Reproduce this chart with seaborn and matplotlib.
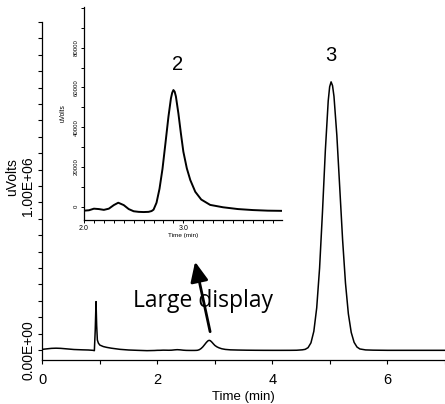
import matplotlib
matplotlib.use("Agg")
import matplotlib.pyplot as plt
from matplotlib.ticker import MultipleLocator, FuncFormatter
import pandas as pd
import seaborn as sns

# ---- data ----
time_min = [0.00, 0.08, 0.16, 0.24, 0.32, 0.42, 0.55, 0.70, 0.80, 0.88, 0.905,
            0.92, 0.934, 0.945, 0.957, 0.975, 1.00, 1.06, 1.12, 1.20, 1.35,
            1.50, 1.65, 1.82, 1.95,
            2.00, 2.05, 2.10, 2.15, 2.20, 2.25, 2.30, 2.345, 2.40, 2.45, 2.50,
            2.55, 2.60, 2.65, 2.68, 2.70, 2.73, 2.76, 2.79, 2.82, 2.85, 2.875,
            2.8875, 2.90, 2.9125, 2.925, 2.95, 2.975, 3.00, 3.035, 3.07, 3.12,
            3.18, 3.27, 3.40, 3.55, 3.70, 3.85, 4.00,
            4.15, 4.30, 4.42, 4.52, 4.57, 4.62, 4.67, 4.72, 4.77, 4.82, 4.87,
            4.92, 4.97, 4.995, 5.02, 5.045, 5.07, 5.12, 5.17, 5.22, 5.27, 5.32,
            5.37, 5.42, 5.47, 5.52, 5.62, 5.75, 6.00, 6.50, 7.00]
uvolts = [4000, 7000, 10000, 11000, 10000, 7000, 3000, 1000, 0, -2000, -4000,
          120000, 295000, 150000, 61000, 42000, 30000, 21000, 16000, 11000, 4000,
          0, -2000, -4000, -3000,
          -2000, -1800, -1000, -1200, -1600, -1000, 800, 2000, 800, -1200, -2300,
          -2600, -2700, -2600, -2200, -1500, 2000, 9000, 19000, 32000, 45300, 54500,
          57300, 58700, 57900, 55500, 47000, 37000, 27700, 19300, 13400, 7500,
          3600, 900, -300, -1200, -1700, -2000, -2100,
          -2100, -2000, -1500, 1000, 4000, 14400, 43700, 114000, 257000, 500000, 840000,
          1216000, 1519000, 1605000, 1635000, 1612000, 1547000, 1309000, 992000, 672000,
          408000, 221000, 107000, 46700, 18100, 6300, 500, -1000, -2000, -2000, -2000]

main_ylabels = [0, 1000000]
inset_ylabels = [0, 20000, 40000, 60000, 80000]
main_xlabels = [0, 2, 4, 6]
inset_xlabels = [2.0, 3.0]
peak_labels = ["2", "3"]

df = pd.DataFrame({"Time (min)": time_min, "uVolts": uvolts})

sns.set_theme(style="ticks")
plt.rcParams["font.family"] = ["Liberation Sans", "DejaVu Sans"]
narrow = ["Liberation Sans Narrow", "Liberation Sans", "DejaVu Sans"]

fig = plt.figure(figsize=(4.45, 4.04), dpi=100)
fig.patch.set_facecolor("white")

# ---- main axes ----
ax = fig.add_axes([42.3 / 445, 44 / 404, 402.7 / 445, 338 / 404])
sns.lineplot(data=df, x="Time (min)", y="uVolts", ax=ax, color="black",
             lw=1.1, sort=False, estimator=None)
ax.set_xlim(0, 7)
ax.set_ylim(-61000, 2.0e6)
sns.despine(ax=ax)
for s in ("left", "bottom"):
    ax.spines[s].set_linewidth(0.9)
    ax.spines[s].set_color("black")
ax.yaxis.set_major_locator(MultipleLocator(1e5))
ax.yaxis.set_major_formatter(FuncFormatter(
    lambda v, p: f"{v:.2E}" if any(abs(v - t) < 1 for t in main_ylabels) else ""))
ax.xaxis.set_major_locator(MultipleLocator(1))
ax.xaxis.set_major_formatter(FuncFormatter(
    lambda v, p: f"{int(round(v))}" if any(abs(v - t) < 1e-6 for t in main_xlabels) else ""))
ax.tick_params(axis="both", direction="out", length=3.2, width=0.8, color="black",
               labelcolor="black")
ax.tick_params(axis="y", labelsize=10, pad=2, labelrotation=90)
ax.tick_params(axis="x", labelsize=10.5, pad=6)
for lab in ax.get_xticklabels():
    lab.set_family(narrow)
for lab in ax.get_yticklabels():
    lab.set_va("center")
ax.set_xlabel("Time (min)", fontsize=9.5, family=narrow, color="black", labelpad=3)
ax.set_ylabel("uVolts", fontsize=10, color="black")
ax.yaxis.set_label_coords(-0.058, 0.54)

ax.text(5.012, 1.794e6, peak_labels[1], fontsize=14.5, ha="center", va="center",
        color="black")
ax.text(1.574, 2.64e5, "Large display", fontsize=16.5, family=["Open Sans", "DejaVu Sans"],
        ha="left", va="baseline", color="black", zorder=3)
ax.annotate("", xy=(2.656, 5.38e5), xytext=(2.917, 1.116e5),
            arrowprops=dict(arrowstyle="-|>,head_length=0.6,head_width=0.27",
                            mutation_scale=20, lw=2, color="black",
                            shrinkA=0, shrinkB=0), zorder=4)

# ---- inset axes ----
ax2 = fig.add_axes([84 / 445, 184 / 404, 197.7 / 445, 213 / 404])
ax2.patch.set_alpha(0)
sns.lineplot(data=df, x="Time (min)", y="uVolts", ax=ax2, color="black",
             lw=1.4, sort=False, estimator=None)
ax2.set_xlim(2.0, 3.99)
ax2.set_ylim(-6700, 100500)
sns.despine(ax=ax2)
for s in ("left", "bottom"):
    ax2.spines[s].set_linewidth(0.9)
    ax2.spines[s].set_color("black")
ax2.xaxis.set_major_locator(MultipleLocator(0.1))
ax2.xaxis.set_major_formatter(FuncFormatter(
    lambda v, p: f"{v:.1f}" if any(abs(v - t) < 1e-6 for t in inset_xlabels) else ""))
ax2.yaxis.set_major_locator(MultipleLocator(10000))
ax2.yaxis.set_major_formatter(FuncFormatter(
    lambda v, p: f"{int(round(v))}" if any(abs(v - t) < 1 for t in inset_ylabels) else ""))
ax2.tick_params(axis="both", direction="out", length=2, width=0.7, color="black",
                labelcolor="black", pad=1.5)
ax2.tick_params(axis="y", labelsize=4.3, labelrotation=90)
ax2.tick_params(axis="x", labelsize=5)
for lab in ax2.get_xticklabels():
    lab.set_family(narrow)
for lab in ax2.get_yticklabels():
    lab.set_va("center")
ax2.set_xlabel("Time (min)", fontsize=4.6, family=narrow, color="black", labelpad=1)
ax2.set_ylabel("uVolts", fontsize=4.7, color="black")
ax2.yaxis.set_label_coords(-0.087, 0.5)
ax2.text(2.94, 71800, peak_labels[0], fontsize=14.5, ha="center", va="center",
         color="black")

fig.savefig("out.png", dpi=100)
